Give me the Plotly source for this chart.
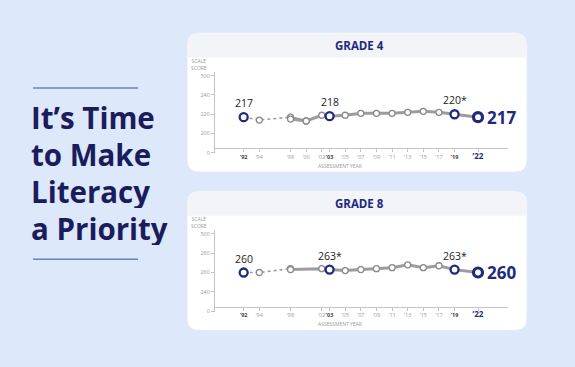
import plotly.graph_objects as go

W, H = 575, 367

# ---------------- data ----------------
g4_tick_years = [1992, 1994, 1998, 2000, 2002, 2003, 2005, 2007, 2009, 2011, 2013, 2015, 2017, 2019, 2022]
g4_tick_labels = ["’92", "’94", "’98", "’00", "’02", "’03", "’05", "’07", "’09", "’11", "’13", "’15", "’17", "’19", "’22"]
g8_tick_years = [1992, 1994, 1998, 2002, 2003, 2005, 2007, 2009, 2011, 2013, 2015, 2017, 2019, 2022]
g8_tick_labels = ["’92", "’94", "’98", "’02", "’03", "’05", "’07", "’09", "’11", "’13", "’15", "’17", "’19", "’22"]

# Grade 4 – accommodations not permitted / permitted
g4_years_na = [1992, 1994, 1998, 2000]
g4_scores_na = [217, 214, 217, 213]
g4_years = [1998, 2000, 2002, 2003, 2005, 2007, 2009, 2011, 2013, 2015, 2017, 2019, 2022]
g4_scores = [215, 213, 219, 218, 219, 221, 221, 221, 222, 223, 222, 220, 217]
g4_y_tickvals = [180, 200, 220, 240, 260]
g4_y_ticktext = ["0", "200", "220", "240", "500"]
g4_highlight_labels = {1992: "217", 2003: "218", 2019: "220*"}
g4_final_label = "217"

# Grade 8
g8_years_na = [1992, 1994, 1998]
g8_scores_na = [260, 260, 264]
g8_years = [1998, 2002, 2003, 2005, 2007, 2009, 2011, 2013, 2015, 2017, 2019, 2022]
g8_scores = [263, 264, 263, 262, 263, 264, 265, 268, 265, 267, 263, 260]
g8_y_tickvals = [220, 240, 260, 280, 300]
g8_y_ticktext = ["0", "240", "260", "280", "500"]
g8_highlight_labels = {1992: "260", 2003: "263*", 2019: "263*"}
g8_final_label = "260"

highlight_years = [1992, 2003, 2019]
final_year = 2022
bold_ticks = [1992, 2003, 2019]

title_lines = ["It’s Time", "to Make", "Literacy", "a Priority"]

# ---------------- styling ----------------
BG = "#dde8fa"
NAVY = "#1d2a7e"
TEXTNAVY = "#1a1c5c"
GRAY_LINE = "#9c9c9c"
GRAY_MK = "#8a8a8a"


def X(px):
    return px / W


def Y(py):
    return 1 - py / H


def rrect(x0, y0, x1, y1, r, top_only=False):
    rb = 0 if top_only else r
    s = f"M {X(x0 + r)},{Y(y0)} L {X(x1 - r)},{Y(y0)} Q {X(x1)},{Y(y0)} {X(x1)},{Y(y0 + r)} "
    s += f"L {X(x1)},{Y(y1 - rb)} "
    if rb:
        s += f"Q {X(x1)},{Y(y1)} {X(x1 - rb)},{Y(y1)} "
    s += f"L {X(x0 + rb)},{Y(y1)} "
    if rb:
        s += f"Q {X(x0)},{Y(y1)} {X(x0)},{Y(y1 - rb)} "
    s += f"L {X(x0)},{Y(y0 + r)} Q {X(x0)},{Y(y0)} {X(x0 + r)},{Y(y0)} Z"
    return s


def ticktext_fmt(years, labels):
    out = []
    for yr, lab in zip(years, labels):
        if yr == final_year:
            out.append(f"<b><span style='color:{NAVY};font-size:8px'>{lab}</span></b>")
        elif yr in bold_ticks:
            out.append(f"<b><span style='color:#444'>{lab}</span></b>")
        else:
            out.append(lab)
    return out


fig = go.Figure()
shapes = []
annotations = []

panels = [
    dict(off=0, title="GRADE 4", yna=g4_years_na, sna=g4_scores_na, yrs=g4_years, sc=g4_scores,
         tv=g4_y_tickvals, tt=g4_y_ticktext, yr=[179.5, 263.6], hl=g4_highlight_labels,
         fin=g4_final_label, na_dotted_end=1998, xa="x", ya="y",
         xt=g4_tick_years, xl=g4_tick_labels),
    dict(off=160, title="GRADE 8", yna=g8_years_na, sna=g8_scores_na, yrs=g8_years, sc=g8_scores,
         tv=g8_y_tickvals, tt=g8_y_ticktext, yr=[219.5, 303.6], hl=g8_highlight_labels,
         fin=g8_final_label, na_dotted_end=1998, xa="x2", ya="y2",
         xt=g8_tick_years, xl=g8_tick_labels),
]

layout_axes = {}
for i, p in enumerate(panels):
    off = p["off"]
    shapes.append(dict(type="path", path=rrect(187, 32 + off, 527, 173 + off, 12), xref="paper", yref="paper",
                       fillcolor="white", line=dict(color="#e4ebf7", width=1), layer="below"))
    shapes.append(dict(type="path", path=rrect(187.5, 32.5 + off, 526.5, 57 + off, 12, top_only=True),
                       xref="paper", yref="paper", fillcolor="#f3f4f7", line=dict(width=0), layer="below"))
    annotations.append(dict(text=f"<b>{p['title']}</b>", x=X(359), y=Y(45 + off), xref="paper", yref="paper",
                            showarrow=False, font=dict(family="Open Sans", size=11.5, color=NAVY),
                            xanchor="center", yanchor="middle"))
    annotations.append(dict(text="SCALE<br>SCORE", x=X(199), y=Y(64 + off), xref="paper", yref="paper",
                            showarrow=False, font=dict(family="Open Sans", size=5, color="#9a9a9a"),
                            xanchor="center", yanchor="middle"))
    annotations.append(dict(text="ASSESSMENT YEAR", x=X(340), y=Y(167 + off), xref="paper", yref="paper",
                            showarrow=False, font=dict(family="Open Sans", size=5, color="#9a9a9a"),
                            xanchor="center", yanchor="middle"))

    xa, ya = p["xa"], p["ya"]
    dot_x = [x for x in p["yna"] if x <= p["na_dotted_end"]]
    dot_y = [s for x, s in zip(p["yna"], p["sna"]) if x <= p["na_dotted_end"]]
    sol_x = [x for x in p["yna"] if x >= p["na_dotted_end"]]
    sol_y = [s for x, s in zip(p["yna"], p["sna"]) if x >= p["na_dotted_end"]]
    fig.add_trace(go.Scatter(x=dot_x, y=dot_y, mode="lines", xaxis=xa, yaxis=ya,
                             line=dict(color=GRAY_LINE, width=1.6, dash="dot"), hoverinfo="skip", showlegend=False))
    if len(sol_x) > 1:
        fig.add_trace(go.Scatter(x=sol_x, y=sol_y, mode="lines", xaxis=xa, yaxis=ya,
                                 line=dict(color=GRAY_LINE, width=2.6), hoverinfo="skip", showlegend=False))
    fig.add_trace(go.Scatter(x=p["yrs"], y=p["sc"], mode="lines", xaxis=xa, yaxis=ya,
                             line=dict(color=GRAY_LINE, width=3), hoverinfo="skip", showlegend=False))
    fig.add_trace(go.Scatter(x=p["yna"], y=p["sna"], mode="markers", xaxis=xa, yaxis=ya,
                             marker=dict(size=6, color="white", line=dict(color=GRAY_MK, width=1.3)),
                             showlegend=False))
    fig.add_trace(go.Scatter(x=p["yrs"], y=p["sc"], mode="markers", xaxis=xa, yaxis=ya,
                             marker=dict(size=6, color="white", line=dict(color=GRAY_MK, width=1.3)),
                             showlegend=False))
    lookup = dict(zip(p["yna"], p["sna"]))
    lookup_acc = dict(zip(p["yrs"], p["sc"]))
    hx = highlight_years
    hy = [lookup[y] if y == 1992 else lookup_acc[y] for y in hx]
    fig.add_trace(go.Scatter(x=hx, y=hy, mode="markers", xaxis=xa, yaxis=ya,
                             marker=dict(size=8, color="white", line=dict(color=NAVY, width=2.3)),
                             showlegend=False))
    fy = lookup_acc[final_year]
    fig.add_trace(go.Scatter(x=[final_year], y=[fy], mode="markers", xaxis=xa, yaxis=ya,
                             marker=dict(size=9, color="white", line=dict(color=NAVY, width=3.2)),
                             showlegend=False))
    for yv, sv in zip(hx, hy):
        annotations.append(dict(text=p["hl"][yv], x=yv, y=sv, xref=xa, yref=ya, showarrow=False,
                                yanchor="bottom", yshift=5, font=dict(family="Open Sans", size=10.5, color="#222")))
    annotations.append(dict(text=f"<b>{p['fin']}</b>", x=final_year, y=fy, xref=xa, yref=ya, showarrow=False,
                            xanchor="left", xshift=7, yanchor="middle",
                            font=dict(family="Open Sans", size=17, color=NAVY)))

    xkey = "xaxis" if i == 0 else "xaxis2"
    ykey = "yaxis" if i == 0 else "yaxis2"
    layout_axes[xkey] = dict(domain=[X(215), X(508)], range=[1988.33, 2025.84], anchor="free",
                             position=Y(149 + off), showline=True, linecolor="#c4c4c4", linewidth=1,
                             tickmode="array", tickvals=p["xt"], ticktext=ticktext_fmt(p["xt"], p["xl"]),
                             tickangle=0, ticks="outside", ticklen=3, tickcolor="#c4c4c4",
                             tickfont=dict(family="Open Sans", size=5.5, color="#9a9a9a"),
                             showgrid=False, zeroline=False, fixedrange=True)
    layout_axes[ykey] = dict(domain=[Y(154 + off), Y(72 + off)], range=p["yr"], anchor=xa,
                             showline=True, linecolor="#c4c4c4", linewidth=1,
                             tickmode="array", tickvals=p["tv"], ticktext=p["tt"], tickangle=0,
                             ticks="outside", ticklen=3, tickcolor="#c4c4c4",
                             tickfont=dict(family="Open Sans", size=5.5, color="#9a9a9a"),
                             showgrid=False, zeroline=False, fixedrange=True)

# left title
line_y = [117, 155, 192, 230]
for t, yy in zip(title_lines, line_y):
    annotations.append(dict(text=f"<b>{t}</b>", x=X(29), y=Y(yy), xref="paper", yref="paper", showarrow=False,
                            xanchor="left", yanchor="middle", height=34, valign="middle",
                            font=dict(family="Open Sans", size=29.5, color=TEXTNAVY)))
for yy in [88, 261]:
    shapes.append(dict(type="line", x0=X(33), x1=X(138), y0=Y(yy), y1=Y(yy), xref="paper", yref="paper",
                       line=dict(color="#6f7fc4", width=1.5)))

fig.update_layout(width=W, height=H, margin=dict(l=0, r=0, t=0, b=0), paper_bgcolor=BG,
                  plot_bgcolor="rgba(0,0,0,0)", shapes=shapes, annotations=annotations,
                  showlegend=False, **layout_axes)

fig.write_html("out.html", config={"displayModeBar": False},
               post_script="document.body.style.margin='0';document.body.style.background='" + BG + "';")
